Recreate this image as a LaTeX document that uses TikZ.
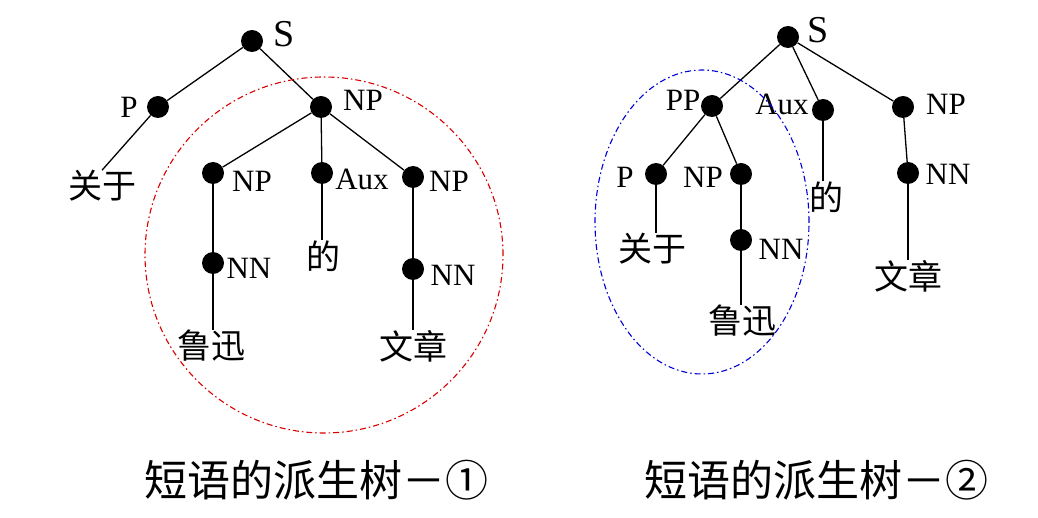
\documentclass[tikz,border=0pt]{standalone}
\usepackage{fontspec}
\setmainfont{Liberation Serif}
\newfontfamily\cjk{Noto Sans CJK SC}
\tikzset{
  dot/.style={circle,fill=black,inner sep=0pt,minimum size=22pt},
  cat/.style={font=\fontsize{31}{31}\selectfont,inner sep=0pt},
  rootlab/.style={font=\fontsize{38}{38}\selectfont,inner sep=0pt},
  word/.style={font=\cjk\fontsize{34}{34}\selectfont,inner sep=0pt},
  treetitle/.style={font=\cjk\fontsize{43}{43}\selectfont},
  br/.style={line width=1.3pt},
  ring/.style={line width=1.1pt,dash pattern=on 6pt off 3pt on 1.5pt off 3pt}
}
\begin{document}
\begin{tikzpicture}[x=1pt,y=-1pt]
    \useasboundingbox (0,0) rectangle (1038,518);

    % tree 1
    \node[dot] (sA) at (252,41) {};
    \node[dot] (pA) at (158,107) {};
    \node[dot] (npA) at (321,107) {};
    \node[dot] (np1A) at (213,173) {};
    \node[dot] (auxA) at (322,173) {};
    \node[dot] (np2A) at (413,177) {};
    \node[dot] (nn1A) at (213,263) {};
    \node[dot] (nn2A) at (413,269) {};

    \node[rootlab] (sAl) at (284,34) {S};
    \node[cat] (pAl) at (129,107) {P};
    \node[cat] (npAl) at (363,100) {NP};
    \node[cat] (np1Al) at (252,181) {NP};
    \node[cat] (auxAl) at (362,179) {Aux};
    \node[cat] (np2Al) at (449,181) {NP};
    \node[cat] (nn1Al) at (249,268) {NN};
    \node[cat] (nn2Al) at (453,275) {NN};

    \node[word] (guanyuA) at (102,186) {关于};
    \node[word] (deA) at (323,256) {的};
    \node[word] (luxunA) at (211,346) {鲁迅};
    \node[word] (wenzhangA) at (413,346) {文章};

    \draw[br] (sA) -- (pA);
    \draw[br] (sA) -- (npA);
    \draw[br] (pA) -- (guanyuA.north);
    \draw[br] (npA) -- (np1A);
    \draw[br] (npA) -- (auxA);
    \draw[br] (npA) -- (np2A);
    \draw[br] (np1A) -- (nn1A);
    \draw[br] (nn1A) -- (luxunA.north -| nn1A);
    \draw[br] (auxA) -- (deA.north -| auxA);
    \draw[br] (np2A) -- (nn2A);
    \draw[br] (nn2A) -- (wenzhangA.north -| nn2A);

    \draw[ring,red!85!black] (324,255) circle [x radius=179pt,y radius=178pt];

    % tree 2
    \node[dot] (sB) at (788,37) {};
    \node[dot] (ppB) at (712,106) {};
    \node[dot] (auxB) at (823,110) {};
    \node[dot] (npB) at (903,107) {};
    \node[dot] (pB) at (656,174) {};
    \node[dot] (np1B) at (741,174) {};
    \node[dot] (nn1B) at (741,240) {};
    \node[dot] (nn2B) at (908,173) {};

    \node[rootlab] (sBl) at (818,30) {S};
    \node[cat] (ppBl) at (683,100) {PP};
    \node[cat] (auxBl) at (782,104) {Aux};
    \node[cat] (npBl) at (946,104) {NP};
    \node[cat] (pBl) at (625,177) {P};
    \node[cat] (np1Bl) at (703,177) {NP};
    \node[cat] (nn1Bl) at (781,249) {NN};
    \node[cat] (nn2Bl) at (948,174) {NN};

    \node[word] (guanyuB) at (652,249) {关于};
    \node[word] (deB) at (826,197) {的};
    \node[word] (luxunB) at (742,321) {鲁迅};
    \node[word] (wenzhangB) at (908,276) {文章};

    \draw[br] (sB) -- (ppB);
    \draw[br] (sB) -- (auxB);
    \draw[br] (sB) -- (npB);
    \draw[br] (ppB) -- (pB);
    \draw[br] (ppB) -- (np1B);
    \draw[br] (pB) -- (guanyuB.north -| pB);
    \draw[br] (np1B) -- (nn1B);
    \draw[br] (nn1B) -- (luxunB.north -| nn1B);
    \draw[br] (auxB) -- (deB.north -| auxB);
    \draw[br] (npB) -- (nn2B);
    \draw[br] (nn2B) -- (wenzhangB.north -| nn2B);

    \draw[ring,blue!85!black] (702,222) circle [x radius=107pt,y radius=152pt];

    % captions
    \node[treetitle] (titleA) at (316,480) {短语的派生树－①};
    \node[treetitle] (titleB) at (816,480) {短语的派生树－②};
\end{tikzpicture}
\end{document}
